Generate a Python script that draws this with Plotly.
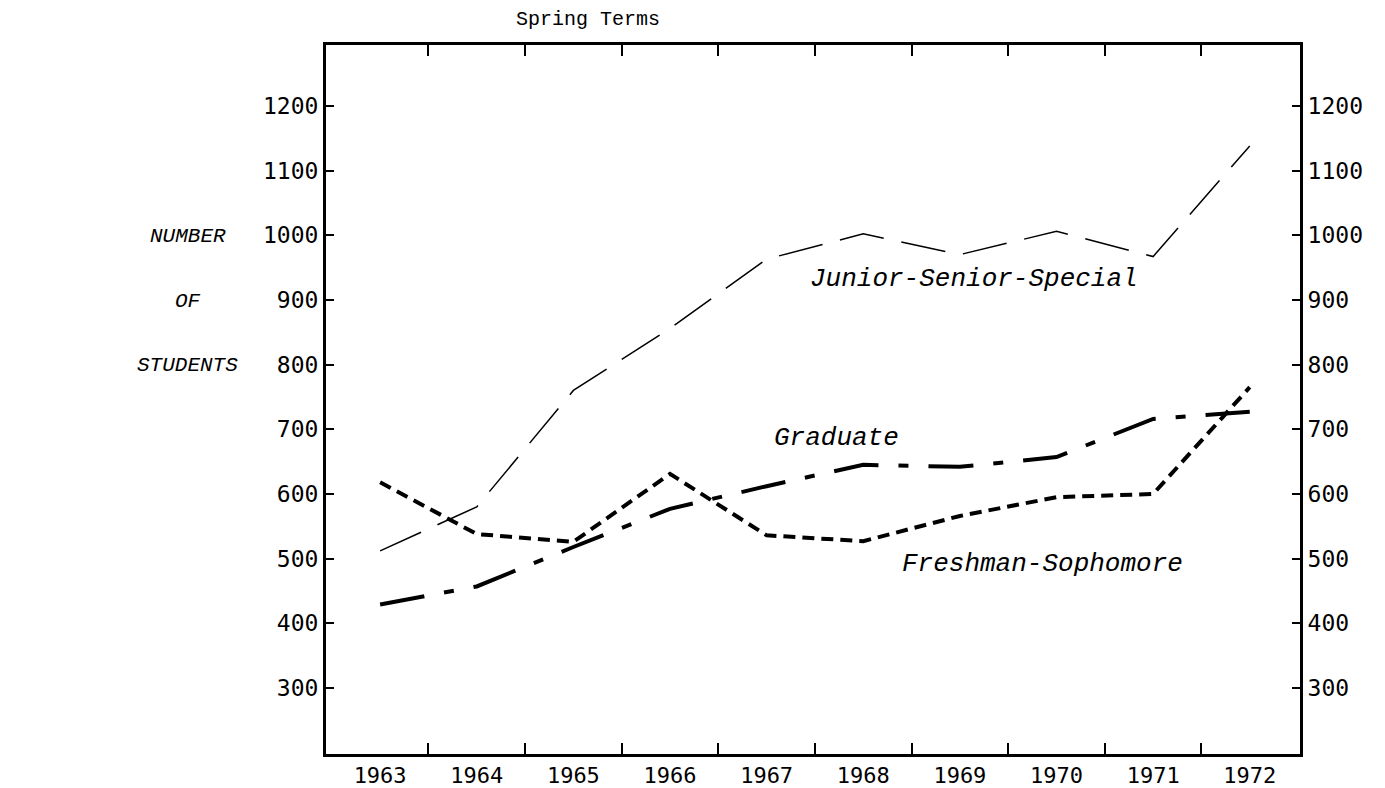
"""Spring term enrolment by class level, 1963-1972."""

import plotly.graph_objects as go

years = [1963, 1964, 1965, 1966, 1967, 1968, 1969, 1970, 1971, 1972]
junior_senior_special = [512, 580, 760, 856, 963, 1002, 970, 1006, 967, 1138]
freshman_sophomore = [618, 538, 526, 631, 536, 527, 566, 595, 600, 765]
graduate = [429, 457, 518, 577, 612, 645, 642, 657, 716, 727]
y_ticks = [300, 400, 500, 600, 700, 800, 900, 1000, 1100, 1200]

tick_font = dict(family="DejaVu Sans Mono", size=23, color="black")
label_font = dict(family="Liberation Mono", size=26, color="black")

fig = go.Figure()

fig.add_trace(go.Scatter(
    x=years, y=junior_senior_special, mode="lines",
    line=dict(color="black", width=1.5, dash="45px,18px"),
    name="Junior-Senior-Special",
))
fig.add_trace(go.Scatter(
    x=years, y=freshman_sophomore, mode="lines",
    line=dict(color="black", width=4, dash="12px,7px"),
    name="Freshman-Sophomore",
))
fig.add_trace(go.Scatter(
    x=years, y=graduate, mode="lines",
    line=dict(color="black", width=4, dash="45px,20px,10px,20px"),
    name="Graduate",
))
# invisible trace so the mirrored axes get drawn
fig.add_trace(go.Scatter(x=[years[0]], y=[y_ticks[0]], xaxis="x2", yaxis="y2",
                         mode="markers", marker=dict(opacity=0),
                         hoverinfo="skip", showlegend=False))

half_years = [y + 0.5 for y in years[:-1]]
x_range = [1962.44, 1972.52]
y_range = [198, 1294]

axis_common = dict(showgrid=False, zeroline=False, automargin=False,
                   showline=True, linecolor="black", linewidth=3)

fig.update_layout(
    width=1385, height=788,
    margin=dict(l=318, r=93, t=37, b=42),
    paper_bgcolor="white", plot_bgcolor="white",
    showlegend=False,
    xaxis=dict(
        range=x_range, tickvals=years, ticktext=[str(y) for y in years],
        ticks="", tickfont=dict(tick_font, size=22),
        minor=dict(tickvals=half_years, ticks="inside", ticklen=11,
                   tickwidth=2, tickcolor="black", showgrid=False),
        **axis_common,
    ),
    xaxis2=dict(
        range=x_range, overlaying="x", side="top", anchor="y",
        tickvals=half_years, showticklabels=False,
        ticks="inside", ticklen=11, tickwidth=2, tickcolor="black",
        **axis_common,
    ),
    yaxis=dict(
        range=y_range, tickvals=y_ticks, ticks="inside", ticklen=8,
        tickwidth=2, tickcolor="black", tickfont=tick_font,
        **axis_common,
    ),
    yaxis2=dict(
        range=y_range, overlaying="y", side="right", anchor="x",
        tickvals=y_ticks, ticks="inside", ticklen=8,
        tickwidth=2, tickcolor="black", tickfont=tick_font,
        **axis_common,
    ),
    font=dict(family="Liberation Mono", color="black"),
)

fig.add_annotation(text="Spring Terms", xref="paper", yref="paper",
                   x=0.269, y=1.0, yshift=26, xanchor="center", yanchor="middle",
                   showarrow=False, font=dict(family="Liberation Mono", size=20))

for txt, x, y in [("Junior-Senior-Special", 1969.15, 932),
                  ("Graduate", 1967.72, 686),
                  ("Freshman-Sophomore", 1969.86, 492)]:
    fig.add_annotation(text=f"<i>{txt}</i>", x=x, y=y, showarrow=False,
                       font=label_font)

for txt, y in [("NUMBER", 0.73), ("OF", 0.638), ("STUDENTS", 0.548)]:
    fig.add_annotation(text=f"<i>{txt}</i>", xref="paper", yref="paper",
                       x=-0.1417, y=y, xanchor="center", yanchor="middle",
                       showarrow=False,
                       font=dict(family="Liberation Mono", size=21))

fig.write_html("out.html")
